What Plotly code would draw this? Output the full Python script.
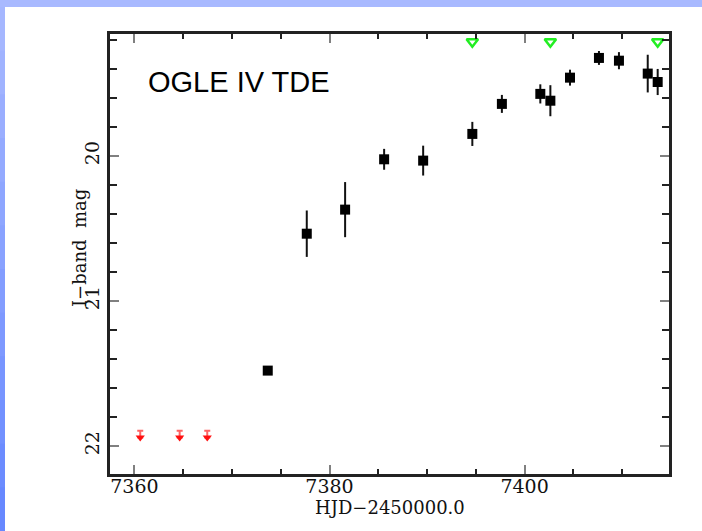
import plotly.graph_objects as go

# ---- data ----
det_hjd = [7373.67, 7377.67, 7381.60, 7385.60, 7389.60, 7394.64, 7397.67,
           7401.61, 7402.64, 7404.65, 7407.62, 7409.67, 7412.62, 7413.64]
det_mag = [21.480, 20.536, 20.370, 20.023, 20.032, 19.848, 19.641,
           19.572, 19.619, 19.460, 19.324, 19.343, 19.432, 19.490]
det_err = [0.02, 0.16, 0.19, 0.072, 0.103, 0.083, 0.062,
           0.066, 0.107, 0.055, 0.048, 0.059, 0.13, 0.09]

red_hjd = [7360.60, 7364.64, 7367.47]
red_mag = [21.941, 21.941, 21.941]

green_hjd = [7394.64, 7402.64, 7413.64]
green_mag = [19.212, 19.212, 19.212]

x_ticks = [7360, 7380, 7400]
y_ticks = [20, 21, 22]

W, H = 702, 531
L, R, T, B = 110, 33, 34, 57
PW, PH = W - L - R, H - T - B

fig = go.Figure()

fig.add_trace(go.Scatter(
    x=det_hjd, y=det_mag, mode="markers",
    marker=dict(symbol="square", size=10, color="#000000"),
    error_y=dict(type="data", array=det_err, visible=True,
                 color="#111111", thickness=2, width=0),
    showlegend=False, cliponaxis=False))

fig.add_trace(go.Scatter(
    x=red_hjd, y=red_mag, mode="markers",
    marker=dict(symbol="triangle-down", size=8, color="#ff1010"),
    error_y=dict(type="data", symmetric=False,
                 array=[0] * len(red_hjd), arrayminus=[0.047] * len(red_hjd),
                 visible=True, color="rgba(255,70,70,0.85)", thickness=2, width=3),
    showlegend=False))

fig.add_trace(go.Scatter(
    x=green_hjd, y=green_mag, mode="markers",
    marker=dict(symbol="triangle-down-open", size=10, color="#22ee22",
                line=dict(width=2.5, color="#22ee22")),
    showlegend=False, cliponaxis=False))

axis_common = dict(
    showgrid=False, zeroline=False,
    showline=True, linecolor="#222222", linewidth=3, mirror="allticks",
    ticks="inside", ticklen=9, tickwidth=2, tickcolor="#808080",
    tickfont=dict(family="DejaVu Serif", size=19, color="#111111"),
)

fig.update_layout(
    width=W, height=H,
    margin=dict(l=L, r=R, t=T, b=B),
    paper_bgcolor="white", plot_bgcolor="white",
    xaxis=dict(range=[7357.5, 7414.8], tickvals=x_ticks,
               ticktext=[str(v) for v in x_ticks], ticklabelstandoff=-7,
               minor=dict(dtick=5, tick0=7360, ticks="inside", ticklen=5,
                          tickwidth=2, tickcolor="#222222", showgrid=False),
               **axis_common),
    yaxis=dict(range=[22.193, 19.159], tickvals=y_ticks,
               ticktext=[str(v) for v in y_ticks], tickangle=-90,
               minor=dict(dtick=0.2, tick0=20, ticks="inside", ticklen=7,
                          tickwidth=2, tickcolor="#222222", showgrid=False),
               **axis_common),
)

def px_x(p):
    return (p - L) / PW

def px_y(p):
    return 1 - (p - T) / PH

fig.add_annotation(text="OGLE IV TDE", xref="paper", yref="paper",
                   x=px_x(146), y=px_y(82), xanchor="left", yanchor="middle",
                   showarrow=False,
                   font=dict(family="Liberation Sans", size=29, color="#000000"))
fig.add_annotation(text="HJD\u22122450000.0", xref="paper", yref="paper",
                   x=0.5, y=px_y(507), xanchor="center", yanchor="middle",
                   showarrow=False,
                   font=dict(family="DejaVu Serif", size=18, color="#111111"))
fig.add_annotation(text="I\u2212band  mag", xref="paper", yref="paper",
                   x=px_x(79), y=px_y(248), xanchor="center", yanchor="middle",
                   textangle=-90, showarrow=False,
                   font=dict(family="DejaVu Serif", size=18, color="#111111"))

# slide background bands
fig.add_shape(type="rect", xref="paper", yref="paper", layer="below",
              x0=px_x(0), x1=px_x(W), y0=px_y(7), y1=px_y(0),
              fillcolor="#a8b9ff", line=dict(width=0))
n = 12
c_top = (168, 185, 255)
c_bot = (100, 134, 255)
for i in range(n):
    f = (i + 0.5) / n
    col = "rgb(%d,%d,%d)" % tuple(round(a + (b - a) * f) for a, b in zip(c_top, c_bot))
    fig.add_shape(type="rect", xref="paper", yref="paper", layer="below",
                  x0=px_x(0), x1=px_x(5),
                  y0=px_y(7 + (H - 7) * (i + 1) / n + 1), y1=px_y(7 + (H - 7) * i / n),
                  fillcolor=col, line=dict(width=0))

fig.write_html("out.html")
